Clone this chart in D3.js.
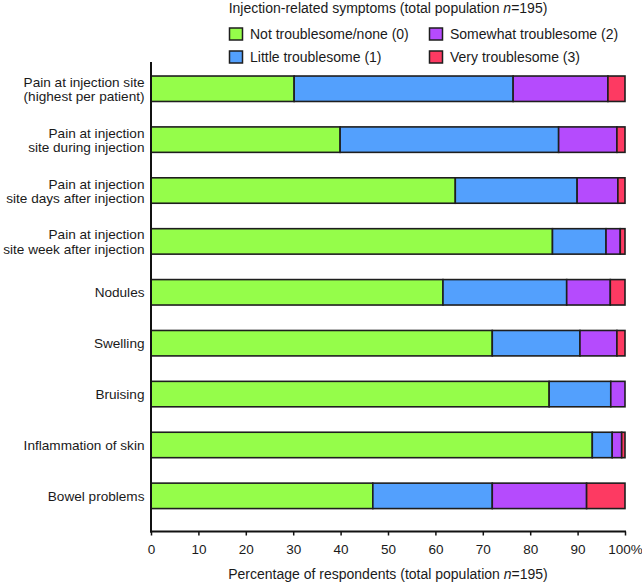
<!DOCTYPE html>
<html>
<head>
<meta charset="utf-8">
<script src="https://cdn.jsdelivr.net/npm/d3@7"></script>
<style>
  html, body { margin: 0; padding: 0; background: #fff; }
  svg { display: block; }
  text { font-family: "Liberation Sans", Arial, Helvetica, sans-serif; fill: #1a1a1a; }
</style>
</head>
<body>
<svg id="chart" width="642" height="582"></svg>
<script>
// ---- Data ----
const categories = [
  ["Pain at injection site", "(highest per patient)"],
  ["Pain at injection", "site during injection"],
  ["Pain at injection", "site days after injection"],
  ["Pain at injection", "site week after injection"],
  ["Nodules"],
  ["Swelling"],
  ["Bruising"],
  ["Inflammation of skin"],
  ["Bowel problems"]
];
const seriesNames = ["Not troublesome/none (0)", "Little troublesome (1)", "Somewhat troublesome (2)", "Very troublesome (3)"];
const notTroublesome      = [30.2, 39.9, 64.2, 84.7, 61.6, 72.0, 84.0, 93.1, 46.8];
const littleTroublesome   = [46.2, 46.1, 25.7, 11.3, 26.1, 18.5, 13.0, 4.2, 25.2];
const somewhatTroublesome = [20.0, 12.3, 8.6, 3.0, 9.2, 7.8, 3.0, 2.0, 19.9];
const veryTroublesome     = [3.6, 1.7, 1.5, 1.0, 3.1, 1.7, 0.0, 0.7, 8.1];
const xTicks = [0, 10, 20, 30, 40, 50, 60, 70, 80, 90, 100];
const colors = ["#95fd4a", "#53a0fd", "#b54bfd", "#fd3a62"];
const legendTitle = ["Injection-related symptoms (total population ", "n", "=195)"];
const axisTitle = ["Percentage of respondents (total population ", "n", "=195)"];

// ---- Build table ----
const seriesValues = [notTroublesome, littleTroublesome, somewhatTroublesome, veryTroublesome];
const rows = categories.map((c, i) => {
  const r = { key: i };
  seriesNames.forEach((s, j) => r[s] = seriesValues[j][i]);
  return r;
});
const stacked = d3.stack().keys(seriesNames)(rows);

const svg = d3.select("#chart");
const left = 151, right = 625;
const x = d3.scaleLinear().domain([0, 100]).range([left, right]);
const y = d3.scaleBand().domain(d3.range(categories.length))
  .range([63.3, 521.3]).paddingInner(0.5).paddingOuter(0.25);
const color = d3.scaleOrdinal().domain(seriesNames).range(colors);

const fs = 14;
const labelFs = 13.6;

// Bars
const g = svg.append("g");
g.selectAll("g.series").data(stacked).join("g")
  .attr("class", "series")
  .attr("fill", d => color(d.key))
  .selectAll("rect").data(d => d.filter(p => p[1] - p[0] > 0)).join("rect")
  .attr("x", d => x(d[0]))
  .attr("width", d => x(d[1]) - x(d[0]))
  .attr("y", d => y(d.data.key))
  .attr("height", y.bandwidth())
  .attr("stroke", "#1e1e1e")
  .attr("stroke-width", 1.6);

// X axis
const axisY = 531.5;
const xAxis = d3.axisBottom(x).tickValues(xTicks).tickSize(4).tickSizeOuter(0)
  .tickFormat(d => d === 100 ? "100%" : d);
const ax = svg.append("g").attr("transform", `translate(0,${axisY})`).call(xAxis);
ax.select(".domain").attr("stroke", "#111").attr("stroke-width", 2)
  .attr("d", `M${left - 1},0H${right + 1}`);
ax.selectAll(".tick line").attr("stroke", "#111").attr("stroke-width", 1.5);
ax.selectAll(".tick text").attr("font-size", 13.5).attr("dy", null).attr("y", 22)
  .attr("font-family", "Liberation Sans, Arial, sans-serif").attr("fill", "#1a1a1a");

// Y axis line
svg.append("line").attr("x1", left).attr("x2", left).attr("y1", 62).attr("y2", axisY + 1)
  .attr("stroke", "#111").attr("stroke-width", 2);

// Category labels
const labels = svg.append("g").selectAll("text").data(categories).join("text")
  .attr("text-anchor", "end")
  .attr("font-size", labelFs)
  .attr("x", left - 6.5)
  .attr("y", (d, i) => y(i) + y.bandwidth() / 2 + 5 - (d.length - 1) * 7);
labels.selectAll("tspan").data(d => d).join("tspan")
  .attr("x", left - 6.5)
  .attr("dy", (d, i) => i === 0 ? 0 : 14.5)
  .text(d => d);

// Axis title
const at = svg.append("text").attr("x", (left + right) / 2).attr("y", 579)
  .attr("text-anchor", "middle").attr("font-size", fs);
at.selectAll("tspan").data(axisTitle).join("tspan")
  .attr("font-style", (d, i) => i === 1 ? "italic" : null).text(d => d);

// Legend title
const lt = svg.append("text").attr("x", (left + right) / 2).attr("y", 13)
  .attr("text-anchor", "middle").attr("font-size", fs);
lt.selectAll("tspan").data(legendTitle).join("tspan")
  .attr("font-style", (d, i) => i === 1 ? "italic" : null).text(d => d);

// Legend
const legendPos = [[229, 34], [229, 57], [429, 34], [429, 57]];
const lg = svg.append("g").selectAll("g").data(seriesNames).join("g")
  .attr("transform", (d, i) => `translate(${legendPos[i][0]},${legendPos[i][1]})`);
lg.append("rect").attr("x", 0.5).attr("y", -6).attr("width", 13).attr("height", 12)
  .attr("fill", d => color(d)).attr("stroke", "#1e1e1e").attr("stroke-width", 1.5);
lg.append("text").attr("x", 21).attr("y", 5).attr("font-size", fs).text(d => d);
</script>
</body>
</html>
